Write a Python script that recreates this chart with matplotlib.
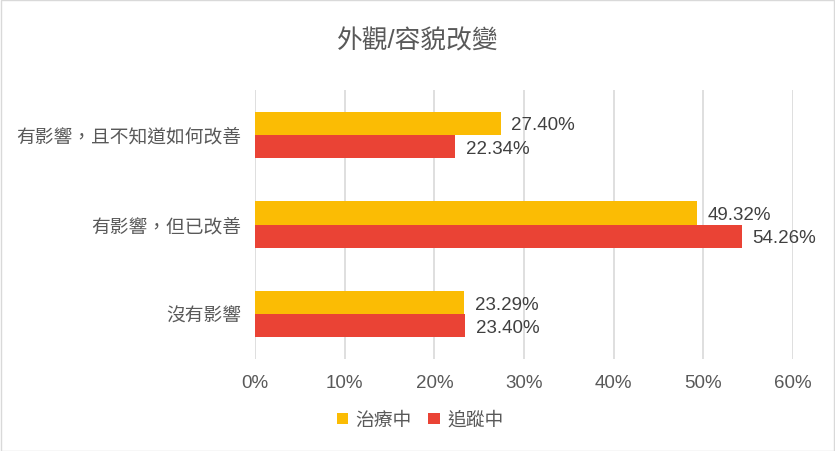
import numpy as np
from matplotlib import pyplot as plt
from matplotlib.patches import Rectangle

plt.rcParams['font.family'] = ['Liberation Sans', 'Noto Sans CJK TC', 'DejaVu Sans']

title = "外觀/容貌改變"
categories = ["有影響，且不知道如何改善", "有影響，但已改善", "沒有影響"]
series_names = ["治療中", "追蹤中"]
treating = [27.40, 49.32, 23.29]
following = [22.34, 54.26, 23.40]
x_ticks = [0, 10, 20, 30, 40, 50, 60]

yellow = "#FBBC04"
red = "#EA4335"
text_gray = "#595959"

fig = plt.figure(figsize=(8.35, 4.52), dpi=100)
ax = fig.add_axes([0.3054, 0.2035, 0.6443, 0.5952])

# categories listed top to bottom
pos = np.arange(len(categories))[::-1].astype(float)
h = 0.26
ax.barh(pos + h / 2, treating, height=h, color=yellow, label=series_names[0], zorder=3)
ax.barh(pos - h / 2, following, height=h, color=red, label=series_names[1], zorder=3)

for p, v in zip(pos + h / 2, treating):
    ax.text(v + 1.2, p - 0.02, f"{v:.2f}%", va="center", ha="left", fontsize=13.5, color="#404040")
for p, v in zip(pos - h / 2, following):
    ax.text(v + 1.2, p - 0.02, f"{v:.2f}%", va="center", ha="left", fontsize=13.5, color="#404040")

ax.set_xlim(0, 60)
ax.set_ylim(-0.5, len(categories) - 0.5)
ax.set_xticks(x_ticks)
ax.set_xticklabels([f"{t}%" for t in x_ticks], fontsize=13.5, color=text_gray)
ax.set_yticks(pos)
ax.set_yticklabels(categories, fontsize=13.5, color=text_gray)
ax.tick_params(length=0, pad=11)
ax.tick_params(axis="y", pad=10)
ax.grid(axis="x", color="#d9d9d9", linewidth=1.2, zorder=0)
for s in ax.spines.values():
    s.set_visible(False)

fig.suptitle(title, fontsize=18.5, color=text_gray, y=0.935)

leg = fig.legend(loc="center", bbox_to_anchor=(0.503, 0.068), ncol=2, frameon=False,
                 fontsize=13.5, handlelength=0.6, handleheight=0.6, handletextpad=0.4,
                 columnspacing=0.9)
for t in leg.get_texts():
    t.set_color(text_gray)

fig.patches.append(Rectangle((0.001, 0.001), 0.998, 0.997, transform=fig.transFigure,
                             fill=False, edgecolor="#d9d9d9", linewidth=1))

fig.savefig("out.png", dpi=100)
